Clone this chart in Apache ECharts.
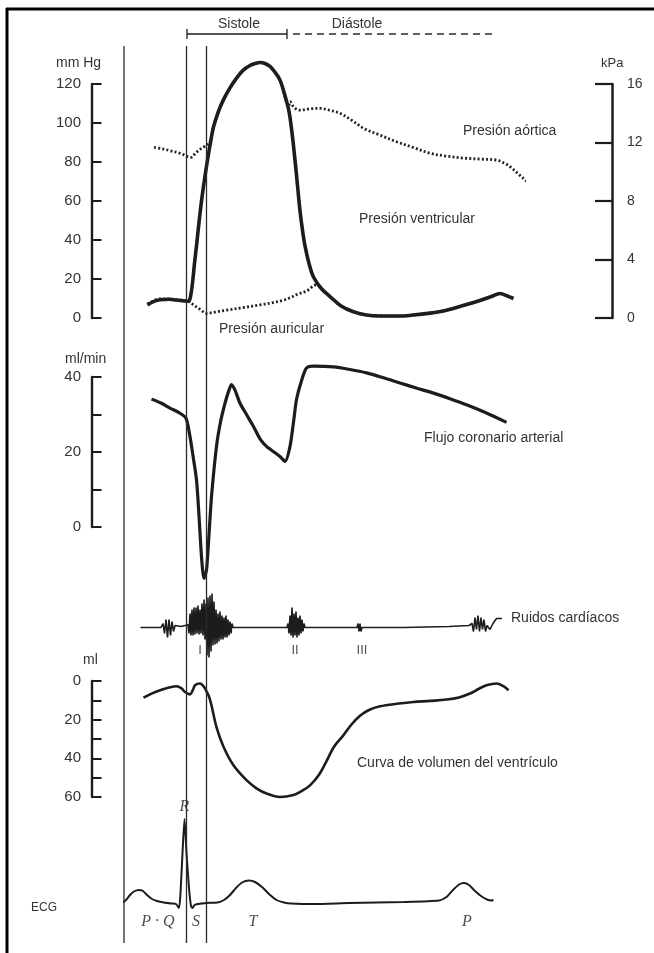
<!DOCTYPE html>
<html>
<head>
<meta charset="utf-8">
<script src="https://cdn.jsdelivr.net/npm/echarts@6/dist/echarts.min.js"></script>
<style>
  html, body { margin: 0; padding: 0; background: #fff; }
  #chart { width: 654px; height: 953px; }
</style>
</head>
<body>
<div id="chart"></div>
<script>
// Cardiac cycle, time in ms from the onset of the P wave.

// Pressures (mm Hg)
const ventricularPressure = [
  [47,6.7],[60,8.5],[72,9.4],[90,9.6],[105,9.2],[120,8.8],[129,8.6],[133,11],[137,18],[141,28],
  [145,37],[150,49],[155,60],[161,71],[167,81],[173,90],[179,98],[189,106],[199,112],[212,118],
  [225,123],[238,127],[252,129.5],[262,130.5],[272,131],[282,130.5],[292,129],[302,126],[312,122],
  [322,114],[330,106],[336,95],[342,81],[347,68],[352,55],[357,45],[362,37],[370,28],[379,21],
  [395,15],[412,11],[435,6],[459,3.2],[485,1.5],[512,1],[545,1],[578,1.5],[612,2.5],[645,4],
  [680,6.5],[712,9],[735,11],[752,12.6],[765,11.5],[779,10]
];
const aorticPressure = [
  [60,87.5],[76,86.8],[92,85.8],[112,84.5],[134,82.4],[143,84.5],[152,86.5],[160,87.8],[166,88.7],
  [173,91],[179,98],[189,106],[199,112],[212,118],[225,123],[238,127],[252,129.5],[272,131],
  [292,129],[302,126],[312,122],[320,115],[326,110],[329,108.5],[332,111],[340,108],[352,106.6],
  [372,107.3],[392,107.5],[412,106.5],[432,105],[455,101.5],[479,97.3],[510,94],[545,90.4],
  [580,87.3],[612,84.5],[645,83],[679,82],[712,81.5],[745,81],[760,79.5],[772,77.6],[797,72],[822,66.5]
];
const atrialPressure = [
  [47,7.2],[60,9],[72,9.8],[90,9.8],[105,9.4],[120,9],[130,8.4],[140,6.5],[152,4.5],[165,2.4],
  [185,3.2],[205,4],[240,5.4],[272,6.7],[300,8],[320,9.2],[328,10],[334,10.5],[345,12],[365,13.8],
  [385,17],[395,15],[412,11],[435,6],[459,3.2],[485,1.5],[512,1],[545,1],[578,1.5],[612,2.5],
  [645,4],[680,6.5],[712,9],[735,11],[752,12.6],[765,11.5],[779,10]
];

// Coronary arterial flow (ml/min)
const coronaryFlow = [
  [55,34.1],[75,33],[92,31.7],[110,30.5],[124,29],[132,24.1],[138,19],[145,12.6],[150,3],[155,-7.9],
  [160,-13.7],[165,-11.5],[170,-2],[175,8.1],[185,21.5],[193,28],[202,33],[210,36.5],[215,38],
  [222,36.5],[232,33],[245,30],[259,26.8],[272,23.5],[285,21.5],[300,20],[312,18.8],[322,17.5],
  [332,21.5],[340,29],[345,34],[355,39],[365,42.4],[379,42.9],[419,42.7],[452,42],[485,41.1],
  [519,39.8],[552,38.4],[586,37],[619,35.7],[652,34.2],[685,32.6],[725,30.4],[765,27.9]
];

// Heart sounds (phonocardiogram, arbitrary amplitude)
const heartSounds = [
  [33,0],[60,0],[74,0],[78,2],[81,-3],[84,4],[87,-5],[90,4],[93,-4],[96,3],[99,-2],[102,1],[106,0],
  [114,0.5],[122,1],[128,1.5],
  [130,-3],[132,7],[134,-4],[136,9],[138,-4],[140,10],[142,-3.5],[144,10],[146,-3],[148,11],
  [150,-3.5],[152,9],[154,-3],[156,12],[158,-4],[160,14],[162,-6],[164,12],[166,-14],[168,15],
  [170,-15],[172,16],[174,-12],[176,17],[178,-9],[180,13],[182,-8.5],[184,9],[186,-8],[188,7],
  [190,-7],[192,8],[194,-6],[196,6],[198,-6],[200,5],[202,-5],[204,6],[206,-5],[208,4],[210,-4],
  [212,3],[214,-3],[216,2],[218,0],
  [230,0],[280,0],[326,0],
  [328,2],[330,-3],[332,6],[334,-4],[336,10],[338,-5],[340,7],[342,-4],[344,8],[346,-5],[348,5],
  [350,-4],[352,6],[354,-3],[356,4],[358,-2],[360,2],[362,0],
  [380,0],[466,0],[468,2],[470,-2],[472,2],[474,-2],[476,0],
  [560,0],[650,0.5],[690,1],[696,2],[699,-2],[702,5],[705,-1],[708,6],[711,-2],[714,5],[717,-1],
  [720,4],[723,-2],[726,1],[732,-1],[738,2],[745,4.5],[756,4.5]
];
const soundNames = [['I',152],['II',342],['III',476]];

// Ventricular volume (ml ejected, axis runs downward)
const ventricularVolume = [
  [39,8.6],[55,6.5],[72,4.8],[90,3.4],[105,2.7],[115,3.8],[122,5.7],[132,6.9],[138,4.5],[142,2.2],
  [152,1.3],[158,2.4],[164,4.8],[170,8],[175,12.6],[185,23.8],[199,34],[219,43.6],[245,51.3],
  [265,55.5],[285,58.2],[312,60],[339,59],[355,57],[372,54],[390,48.5],[405,41.5],[420,34],
  [439,28],[455,22.5],[472,18],[490,15],[512,13.1],[545,11.8],[579,10.9],[612,10.3],[645,9.6],
  [670,8.5],[692,6.5],[710,4],[725,2.2],[745,1.3],[759,2.7],[769,4.8]
];

// Electrocardiogram (arbitrary units)
const ecg = [
  [-10,-2],[-4,0],[4,3],[12,8],[20,11.5],[30,13],[38,12],[46,8],[56,4],[66,2],[80,0.5],[95,-0.5],
  [104,-1],[110,-5],[113,10],[117,50],[121,84],[125,50],[130,15],[134,-3],[137,-5],[141,-2],
  [148,-1],[165,0],[187,0.5],[200,3],[212,8],[224,15],[236,20.5],[250,22.5],[262,21],[276,16],
  [290,9],[305,3],[320,0.5],[335,-0.5],[380,-1],[450,0],[560,1],[630,2.5],[645,6],[658,13],
  [670,18.5],[680,20],[690,18],[702,12],[714,7],[726,3.5],[734,2.5],[739,3]
];
const ecgWaves = [['R',121,96],['P · Q',68,-19],['S',144,-19],['T',258,-19],['P',686,-19]];

// Cycle phases
const phaseLines = [0, 125, 165];
const systole = [126, 326];
const diastole = [338, 744];

// Axis ticks
const mmHgTicks = { min: 0, max: 120, step: 20 };
const kPaTicks = { min: 0, max: 16, step: 4 };
const flowTicks = { min: 0, max: 40, step: 10, labelEvery: 20 };
const volumeTicks = { min: 0, max: 60, step: 10, labelEvery: 20 };

const INK = '#1c1c1c';
const TXT = '#333333';
const SANS = '"Liberation Sans", Arial, Helvetica, sans-serif';
const SERIF = '"Liberation Serif", "Times New Roman", serif';

const chart = echarts.init(document.getElementById('chart'), null, { renderer: 'canvas' });

const plotLeft = 124, plotWidth = 400;
const grids = [
  { left: plotLeft, width: plotWidth, top: 84, height: 234 },    // pressures
  { left: plotLeft, width: plotWidth, top: 377, height: 150 },   // coronary flow
  { left: plotLeft, width: plotWidth, top: 607.5, height: 40 },  // heart sounds
  { left: plotLeft, width: plotWidth, top: 681, height: 116 },   // volume
  { left: plotLeft, width: plotWidth, top: 803, height: 110 },   // ECG
  { left: plotLeft, width: plotWidth, top: 0, height: 953 }      // phase markers
];

const xAxes = grids.map((g, i) => ({
  type: 'value', gridIndex: i, min: 0, max: 800, show: false
}));

function leftAxis(gridIndex, t, inverse) {
  return {
    type: 'value', gridIndex, position: 'left', offset: 32,
    min: t.min, max: t.max, interval: t.step, inverse: !!inverse,
    axisLine: { show: true, onZero: false, lineStyle: { color: INK, width: 2.4 } },
    axisTick: { show: true, inside: true, length: 9.5, lineStyle: { color: INK, width: 2 } },
    axisLabel: {
      margin: 11, color: TXT, fontSize: 15, fontFamily: SANS,
      formatter: v => (t.labelEvery && v % t.labelEvery !== 0) ? '' : String(v)
    },
    splitLine: { show: false }
  };
}

const yAxes = [
  leftAxis(0, mmHgTicks),
  {
    type: 'value', gridIndex: 0, position: 'right', offset: 88,
    min: kPaTicks.min, max: kPaTicks.max, interval: kPaTicks.step,
    axisLine: { show: true, onZero: false, lineStyle: { color: INK, width: 2.5 } },
    axisTick: { show: true, inside: true, length: 17, lineStyle: { color: INK, width: 2.2 } },
    axisLabel: { margin: 15, color: TXT, fontSize: 14, fontFamily: SANS },
    splitLine: { show: false }
  },
  leftAxis(1, flowTicks),
  { type: 'value', gridIndex: 2, min: -10, max: 10, show: false },
  leftAxis(3, volumeTicks, true),
  { type: 'value', gridIndex: 4, min: -10, max: 100, show: false },
  { type: 'value', gridIndex: 5, min: 0, max: 953, inverse: true, show: false }
];

function curve(name, data, xi, yi, width, opts) {
  return Object.assign({
    name, type: 'line', data, xAxisIndex: xi, yAxisIndex: yi,
    symbol: 'none', smooth: 0.35, clip: false, silent: true,
    lineStyle: { color: INK, width }
  }, opts || {});
}

const dotted = { color: '#222', width: 2.8, type: [2, 2.2], cap: 'butt' };

const series = [
  curve('Presión ventricular', ventricularPressure, 0, 0, 3.6),
  curve('Presión aórtica', aorticPressure, 0, 0, 2.8, { lineStyle: dotted }),
  curve('Presión auricular', atrialPressure, 0, 0, 2.8, { lineStyle: dotted }),
  curve('Flujo coronario arterial', coronaryFlow, 1, 2, 3.2, { smooth: 0.25 }),
  curve('Ruidos cardíacos', heartSounds, 2, 3, 1.6, { smooth: false }),
  {
    type: 'scatter', xAxisIndex: 2, yAxisIndex: 3, symbolSize: 0, silent: true, clip: false, z: 5,
    data: soundNames.map(s => ({ name: s[0], value: [s[1], -11.3] })),
    label: { show: true, position: 'inside', formatter: p => p.name, color: '#222', fontSize: 13, fontFamily: SANS }
  },
  curve('Curva de volumen del ventrículo', ventricularVolume, 3, 4, 2.6),
  curve('ECG', ecg, 4, 5, 2, { smooth: 0.2 }),
  {
    type: 'scatter', xAxisIndex: 4, yAxisIndex: 5, symbolSize: 0, silent: true, clip: false,
    data: ecgWaves.map(w => ({ name: w[0], value: [w[1], w[2]] })),
    label: {
      show: true, position: 'inside', formatter: p => p.name, color: '#222',
      fontSize: 16, fontStyle: 'italic', fontFamily: SERIF
    }
  }
];

// phase separators running through every trace
const lineTop = 46, lineBottom = 943;
phaseLines.forEach(t => {
  series.push(curve('', [[t, lineTop], [t, lineBottom]], 5, 6, 1.3, { smooth: false, lineStyle: { color: '#2a2a2a', width: 1.3 } }));
});
// systole bracket
const brY = 34, brH = 5;
series.push(curve('', [[systole[0], brY], [systole[1], brY]], 5, 6, 1.3, { smooth: false }));
systole.forEach(t => series.push(curve('', [[t, brY - brH], [t, brY + brH]], 5, 6, 1.3, { smooth: false })));
// diastole, dashed
series.push(curve('', [[diastole[0], brY], [diastole[1], brY]], 5, 6, 1.3, {
  smooth: false, lineStyle: { color: '#2a2a2a', width: 1.3, type: [7, 5] }
}));

function text(str, x, y, size, opts) {
  return Object.assign({
    type: 'text', x, y, silent: true,
    style: {
      text: str, fill: TXT, font: size + 'px ' + SANS,
      align: 'left', textAlign: 'left', verticalAlign: 'middle', textVerticalAlign: 'middle'
    }
  }, opts || {});
}
function centered(str, x, y, size) {
  const t = text(str, x, y, size);
  t.style.align = 'center'; t.style.textAlign = 'center';
  return t;
}

const graphics = [
  // frame
  { type: 'line', silent: true, shape: { x1: 6, y1: 9, x2: 654, y2: 9 }, style: { stroke: '#000', lineWidth: 3 } },
  { type: 'line', silent: true, shape: { x1: 7, y1: 8, x2: 7, y2: 953 }, style: { stroke: '#000', lineWidth: 3 } },
  centered('Sistole', 239, 24, 14),
  centered('Diástole', 357, 24, 14),
  text('mm Hg', 56, 63, 14),
  text('kPa', 601, 63, 13),
  text('Presión aórtica', 463, 131, 14),
  text('Presión ventricular', 359, 219, 14),
  text('Presión auricular', 219, 329, 14),
  text('ml/min', 65, 359, 14),
  text('Flujo coronario arterial', 424, 438, 14),
  text('Ruidos cardíacos', 511, 618, 14),
  text('ml', 83, 660, 14),
  text('Curva de volumen del ventrículo', 357, 763, 14),
  text('ECG', 31, 908, 12)
];

chart.setOption({
  animation: false,
  backgroundColor: '#ffffff',
  grid: grids,
  xAxis: xAxes,
  yAxis: yAxes,
  series,
  graphic: graphics
});
</script>
</body>
</html>
